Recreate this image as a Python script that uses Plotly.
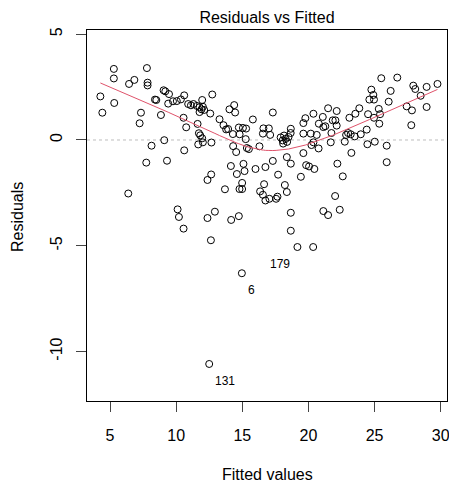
import numpy as np
import plotly.graph_objects as go

# Fitted values and residuals
fitted = [4.27, 4.42, 5.29, 5.29, 5.32, 6.38, 6.44, 6.84, 7.24, 7.34,
          7.79, 7.84, 7.84, 8.14, 7.74, 8.40, 8.50, 8.85, 9.05, 9.18,
          9.10, 9.31, 9.46, 9.40, 9.76, 10.05, 10.36, 10.61, 10.56, 10.76,
          10.61, 10.11, 10.21, 10.56, 10.91, 11.12, 11.31, 11.57, 11.77, 11.97,
          12.02, 12.12, 11.92, 11.77, 11.62, 11.72, 11.82, 11.97, 11.67, 12.73,
          12.58, 12.67, 12.02, 12.37, 12.65, 12.63, 12.37, 12.93, 13.28, 13.58,
          13.78, 13.93, 14.03, 14.39, 14.46, 14.29, 14.80, 14.74, 15.05, 15.29,
          15.26, 14.31, 14.54, 15.35, 15.50, 14.14, 15.09, 14.59, 15.17, 13.69,
          14.79, 14.99, 14.99, 14.16, 14.74, 14.97, 12.50, 15.80, 16.00, 16.30,
          16.35, 16.56, 16.75, 17.05, 17.56, 17.66, 16.65, 16.75, 17.31, 17.31,
          16.60, 17.01, 16.56, 17.11, 17.71, 18.22, 18.37, 18.37, 18.67, 18.67,
          18.67, 19.17, 20.36, 19.43, 19.62, 19.83, 20.05, 20.45, 20.77, 19.62,
          19.77, 20.38, 20.79, 21.13, 19.62, 20.18, 20.63, 20.38, 20.23, 17.90,
          18.05, 18.16, 18.28, 18.39, 18.50, 18.66, 18.09, 18.67, 21.49, 22.14,
          21.09, 21.28, 21.84, 22.04, 22.14, 21.74, 23.10, 23.00, 23.20, 22.85,
          23.50, 23.96, 24.41, 21.69, 22.75, 24.46, 25.02, 25.92, 23.25, 25.92,
          22.19, 22.60, 22.02, 21.13, 21.49, 22.37, 23.85, 23.55, 24.51, 25.32,
          25.42, 24.96, 25.36, 27.78, 27.43, 27.83, 28.94, 28.49, 24.76, 26.22,
          24.91, 24.61, 24.96, 26.07, 25.51, 26.72, 29.76, 28.94, 27.93, 28.08]

residuals = [2.06, 1.29, 3.36, 2.91, 1.75, -2.53, 2.65, 2.84, 0.79, 1.29,
             3.40, 2.71, 2.58, -0.27, -1.07, 1.91, 1.89, 1.18, 2.35, 2.30,
             -0.01, -0.98, 2.17, 1.72, 1.83, 1.84, 1.92, 2.11, 1.05, 0.60,
             -0.49, -3.28, -3.64, -4.19, 1.70, 1.64, 1.70, 1.61, 1.55, 1.89,
             1.57, 1.42, 1.45, 1.32, 0.76, 0.32, 0.22, 0.08, -0.21, 2.15,
             1.25, -0.12, -0.11, -1.89, -1.63, -4.74, -3.69, -3.39, 0.98, 0.70,
             0.50, 0.52, 1.45, 1.65, 1.30, 0.28, 0.27, 0.59, 0.57, 0.54,
             0.04, -0.29, -0.57, -0.38, -0.43, -1.23, -1.13, -1.61, -1.47, -2.33,
             -2.32, -2.32, -2.03, -3.78, -3.60, -6.30, -10.59, 0.97, -1.37, -0.30,
             -2.43, -2.59, -2.86, -2.78, -2.78, -2.68, -2.09, -1.28, -0.99, 1.30,
             0.55, 0.55, 0.30, 0.24, -1.64, -2.13, -2.46, -0.81, -1.12, -3.44,
             -4.29, -5.06, -5.06, -1.74, -0.62, -1.19, -1.25, -1.37, -0.40, 0.80,
             1.03, 1.24, 0.77, 0.61, 0.30, 0.30, 0.24, -0.11, -0.24, 0.12,
             -0.02, 0.21, 0.05, -0.09, 0.14, 0.33, -0.17, 0.53, 1.50, 1.37,
             1.09, 0.65, 0.93, 0.93, 0.68, 0.33, 1.05, 0.33, 0.27, 0.24,
             0.17, 0.27, 0.49, -0.11, -0.08, -0.20, -0.08, -0.27, -0.61, -1.05,
             -1.12, -1.72, -2.65, -3.36, -3.55, -3.30, 1.50, 1.24, 1.22, 1.47,
             1.22, 1.05, 0.77, 0.70, 1.59, 1.40, 1.56, 2.09, 2.38, 2.32,
             2.13, 1.91, 1.91, 1.81, 2.92, 2.95, 2.65, 2.51, 2.57, 2.41]

# Labelled observations (observation id, fitted, residual)
label_ids = ["131", "6", "179"]
label_fitted = [12.50, 14.97, 19.17]
label_resid = [-10.59, -6.30, -5.06]

x_ticks = [5, 10, 15, 20, 25, 30]
y_ticks = [-10, -5, 0, 5]


def lowess(x, y, f=2/3, iters=3):
    x = np.asarray(x, float)
    y = np.asarray(y, float)
    order = np.argsort(x)
    x, y = x[order], y[order]
    n = len(x)
    ns = max(min(int(f * n + 1e-7), n), 2)
    rw = np.ones(n)
    ys = np.zeros(n)
    for it in range(iters + 1):
        for i in range(n):
            d = np.abs(x - x[i])
            h = np.sort(d)[ns - 1]
            h = max(h, 1e-12)
            u = d / h
            w = np.where(u < 1, (1 - u ** 3) ** 3, 0.0) * rw
            sw = w.sum()
            if sw <= 0:
                ys[i] = y[i]
                continue
            xm = (w * x).sum() / sw
            ym = (w * y).sum() / sw
            sxx = (w * (x - xm) ** 2).sum()
            if sxx > 1e-12 * (h ** 2) * sw:
                b = (w * (x - xm) * (y - ym)).sum() / sxx
            else:
                b = 0.0
            ys[i] = ym + b * (x[i] - xm)
        if it == iters:
            break
        res = y - ys
        cmad = 6 * np.median(np.abs(res))
        if cmad < 1e-12:
            break
        u = res / cmad
        rw = np.where(np.abs(u) < 1, (1 - u ** 2) ** 2, 0.0)
    return x, ys


sx, sy = lowess(fitted, residuals)

font_family = "Liberation Sans, Arial, sans-serif"

fig = go.Figure()
fig.add_trace(go.Scatter(
    x=fitted, y=residuals, mode="markers",
    marker=dict(symbol="circle-open", size=7, color="black", line=dict(width=1, color="black")),
    hoverinfo="x+y", showlegend=False))
fig.add_trace(go.Scatter(
    x=sx, y=sy, mode="lines",
    line=dict(color="#DF536B", width=1), showlegend=False, hoverinfo="skip"))

fig.add_hline(y=0, line=dict(color="#BEBEBE", width=1, dash="dot"), layer="below")

for lab, fx, ry in zip(label_ids, label_fitted, label_resid):
    right = fx > 16.9
    fig.add_annotation(
        x=fx, y=ry, text=lab, showarrow=False,
        xanchor="right" if right else "left", yanchor="middle",
        xshift=-5 if right else 4, yshift=-17,
        font=dict(family=font_family, size=12, color="black"))

# Axis titles placed in the margins
fig.add_annotation(text="Fitted values", xref="paper", yref="paper",
                   x=0.5, y=-(474 - 401) / 371, xanchor="center", yanchor="middle",
                   showarrow=False, font=dict(family=font_family, size=16, color="black"))
fig.add_annotation(text="Residuals", xref="paper", yref="paper", textangle=-90,
                   x=-(87 - 17) / 360, y=(401 - 217) / 371, xanchor="center", yanchor="middle",
                   showarrow=False, font=dict(family=font_family, size=16, color="black"))

fig.update_layout(
    width=449, height=483,
    margin=dict(l=87, r=2, t=30, b=82),
    paper_bgcolor="white", plot_bgcolor="white",
    font=dict(family=font_family, size=16, color="black"),
    title=dict(text="Residuals vs Fitted", x=267 / 449, xanchor="center",
               y=1 - 17 / 483, yanchor="middle", yref="container",
               font=dict(family=font_family, size=16, color="black")),
)
fig.update_xaxes(
    range=[3.26, 30.48], tickvals=x_ticks, ticktext=[str(v) for v in x_ticks],
    ticks="outside", ticklen=10, tickcolor="#444", tickwidth=1,
    showline=True, linecolor="black", linewidth=1, mirror=True,
    showgrid=False, zeroline=False, ticklabelstandoff=10, automargin=False,
    ticklabeloverflow="allow",
    tickfont=dict(family=font_family, size=16, color="black"))
fig.update_yaxes(
    range=[-12.34, 5.20], tickvals=y_ticks, ticktext=[str(v) for v in y_ticks],
    ticks="outside", ticklen=10, tickcolor="#444", tickwidth=1, tickangle=-90,
    showline=True, linecolor="black", linewidth=1, mirror=True,
    showgrid=False, zeroline=False, ticklabelstandoff=8, automargin=False,
    ticklabeloverflow="allow",
    tickfont=dict(family=font_family, size=16, color="black"))

fig.write_html("out.html", config={"displayModeBar": False},
               post_script="document.body.style.margin='0';document.body.style.overflow='hidden';")
